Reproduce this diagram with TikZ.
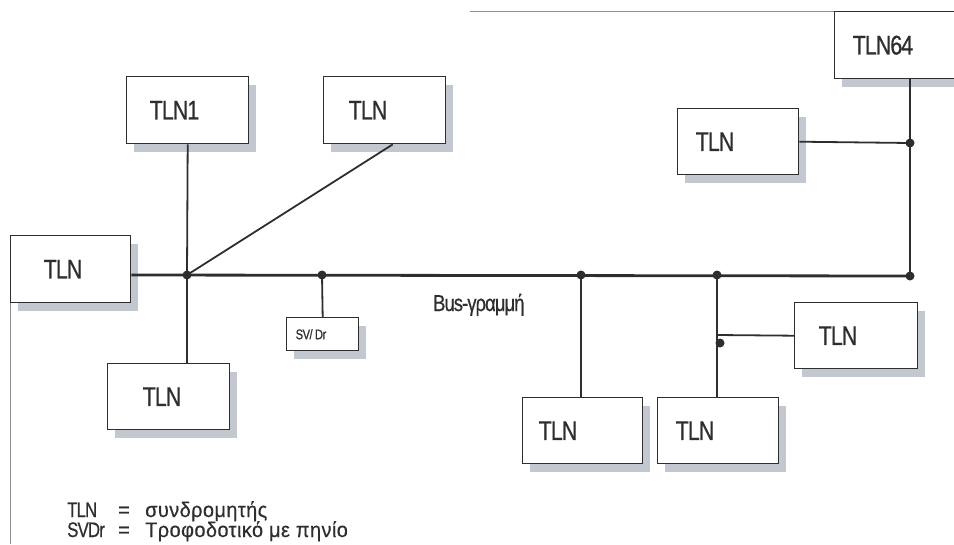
\documentclass[tikz,border=0pt]{standalone}
\usepackage{fontspec}
\setmainfont{Liberation Sans}[FakeStretch=0.8, LetterSpace=-4, FakeBold=0.6]
\newfontfamily\legfont{Liberation Sans}[FakeStretch=0.95, LetterSpace=2, FakeBold=0.4]
\usetikzlibrary{shadows}
\definecolor{ink}{HTML}{2E2E2E}
\definecolor{shade}{HTML}{C3C7D0}
\definecolor{edge}{HTML}{8A8F99}
\tikzset{
  tln/.style={draw=ink, line width=1.4pt, fill=white, anchor=north west, inner ysep=0pt,
    align=left, text=ink, font=\fontsize{27}{27}\selectfont,
    drop shadow={shadow xshift=7pt, shadow yshift=-8pt, fill=shade, opacity=1}},
  conn/.style={draw=ink, line width=1.8pt},
  busline/.style={draw=ink, line width=2.8pt},
  jdot/.style={fill=ink, circle, inner sep=0pt, minimum size=9pt},
  lbl/.style={text=ink, anchor=base west, inner sep=0pt},
  abbr/.style={lbl, font=\fontsize{21}{21}\selectfont},
  greek/.style={lbl, font=\legfont\fontsize{21}{21}\selectfont},
  border/.style={draw=edge, line width=0.8pt}
}
\newcommand{\tbox}[6]{% name, x, y, width, height, offset; text follows
  \node[tln, minimum width=#4pt, minimum height=#5pt, inner xsep=#6pt,
        text width=#4pt-2*#6pt] (#1) at (#2,#3)}
\begin{document}
\begin{tikzpicture}[x=1pt,y=-1pt]
\useasboundingbox (0,0) rectangle (954,544);
\clip (0,0) rectangle (954,544);
% page edges of the scan
\draw[border] (470,11) -- (834,11);
\draw[border] (10,302) -- (10,544);
% boxes
\tbox{TLNleft}{10}{235}{120}{67}{33}{TLN};
\tbox{TLNone}{126}{76}{122}{67}{23}{TLN1};
\tbox{TLNtop}{323}{76}{122}{67}{25}{TLN};
\tbox{TLNbl}{107}{363}{122}{66}{35}{TLN};
\node[tln, minimum width=72pt, minimum height=33pt, inner xsep=9pt, text width=54pt,
      font=\fontsize{14}{14}\selectfont] (SVDr) at (286,317) {SV/\,Dr};
\tbox{TLNbone}{522}{397}{120}{66}{16}{TLN};
\tbox{TLNbtwo}{657}{397}{121}{66}{18}{TLN};
\tbox{TLNr}{794}{302}{123}{66}{24}{TLN};
\tbox{TLNur}{677}{108}{121}{66}{18}{TLN};
\tbox{TLNsf}{834}{11}{140}{67}{18}{TLN64};
% junction coordinates
\coordinate (hub) at (187,275);
\coordinate (jsv) at (322,275);
\coordinate (jone) at (581,275);
\coordinate (jtwo) at (717,275);
\coordinate (jend) at (910,276);
\coordinate (jur) at (910,143);
\coordinate (jbr) at (717,335);
\coordinate (jx) at (720,343);
% bus
\draw[busline] (TLNleft.east |- hub) -- (jend);
% connectors
\draw[conn] (TLNone.south) -- (hub);
\draw[conn] (hub) -- (hub |- TLNbl.north);
\draw[conn] (hub) -- ([xshift=8pt]TLNtop.south);
\draw[conn] (jsv) -- (SVDr.north);
\draw[conn] (jone) -- (jone |- TLNbone.north);
\draw[conn] (jtwo) -- (jtwo |- TLNbtwo.north);
\draw[conn] (jbr) -- (TLNr.west);
\draw[conn] (jend |- TLNsf.south) -- (jend);
\draw[conn] (TLNur.east) -- (jur);
% dots
\foreach \p in {hub,jsv,jone,jtwo,jend,jur,jx}
  \node[jdot] at (\p) {};
% bus label
\node[lbl, font=\fontsize{23}{23}\selectfont] (buslbl) at (433,311) {Bus-γραμμή};
% legend
\node[abbr] (lgone) at (67,517) {TLN};
\node[greek] (lgeqone) at (118,517) {=};
\node[greek] (lgtxtone) at (145,517) {συνδρομητής};
\node[abbr] (lgtwo) at (67,537) {SVDr};
\node[greek] (lgeqtwo) at (118,537) {=};
\node[greek] (lgtxttwo) at (145,537) {Τροφοδοτικό με πηνίο};
\end{tikzpicture}
\end{document}
